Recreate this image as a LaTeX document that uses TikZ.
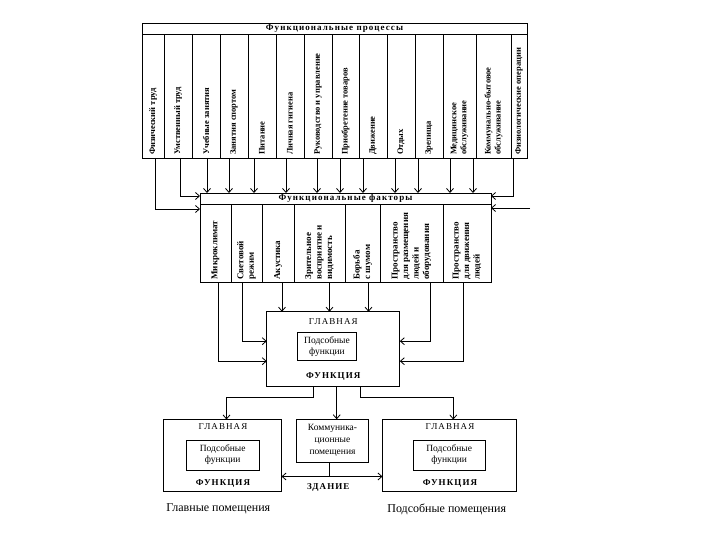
\documentclass[tikz,border=0pt]{standalone}
\usepackage{fontspec}
\setmainfont{Liberation Serif}
\newfontfamily\spaced[LetterSpace=12]{Liberation Serif}
\usepackage{graphicx}
\usetikzlibrary{positioning,arrows.meta}

\newcommand{\vtext}[2]{\rotatebox{90}{\parbox{#1}{\raggedright #2}}}

\begin{document}
\begin{tikzpicture}[
  x=1pt, y=-1pt,
  line width=0.8pt,
  >={Straight Barb[length=4pt,width=7pt]},
  cell/.style={draw, rectangle, outer sep=0pt, inner sep=1pt},
  head/.style={cell, minimum height=11pt, font=\fontsize{9}{10}\selectfont\spaced\bfseries},
  proc/.style={cell, minimum height=124pt, font=\fontsize{8.5}{10}\selectfont\bfseries},
  fact/.style={cell, minimum height=78pt, font=\fontsize{9}{10.5}\selectfont\bfseries},
  box/.style={draw, rectangle, outer sep=0pt},
  sub/.style={box, inner sep=1pt, align=center, font=\fontsize{9.5}{11}\selectfont},
  word/.style={inner sep=1pt, font=\fontsize{9}{11}\selectfont\spaced},
  bold/.style={inner sep=1pt, font=\fontsize{9}{11}\selectfont\spaced\bfseries},
  caption/.style={inner sep=1pt, font=\fontsize{12}{14}\selectfont},
]
\useasboundingbox (0,0) rectangle (720,540);

% functional processes
\node[head, minimum width=385pt, anchor=north west] (procs) at (142,23) {Функциональные процессы};
\node[proc, minimum width=22pt, anchor=north west] (p1) at (procs.south west) {\vtext{118pt}{Физический труд}};
\node[proc, minimum width=28pt, right=0pt of p1] (p2) {\vtext{118pt}{Умственный труд}};
\node[proc, minimum width=28pt, right=0pt of p2] (p3) {\vtext{118pt}{Учебные занятия}};
\node[proc, minimum width=28pt, right=0pt of p3] (p4) {\vtext{118pt}{Занятия спортом}};
\node[proc, minimum width=28pt, right=0pt of p4] (p5) {\vtext{118pt}{Питание}};
\node[proc, minimum width=28pt, right=0pt of p5] (p6) {\vtext{118pt}{Личная гигиена}};
\node[proc, minimum width=28pt, right=0pt of p6] (p7) {\vtext{118pt}{Руководство и управление}};
\node[proc, minimum width=27pt, right=0pt of p7] (p8) {\vtext{118pt}{Приобретение товаров}};
\node[proc, minimum width=28pt, right=0pt of p8] (p9) {\vtext{118pt}{Движение}};
\node[proc, minimum width=28pt, right=0pt of p9] (p10) {\vtext{118pt}{Отдых}};
\node[proc, minimum width=28pt, right=0pt of p10] (p11) {\vtext{118pt}{Зрелища}};
\node[proc, minimum width=33pt, right=0pt of p11] (p12) {\vtext{118pt}{Медицинское\\обслуживание}};
\node[proc, minimum width=35pt, right=0pt of p12] (p13) {\vtext{118pt}{Коммунально-бытовое\\обслуживание}};
\node[proc, minimum width=16pt, right=0pt of p13] (p14) {\vtext{118pt}{Физиологические операции}};

% functional factors
\node[head, minimum width=291pt, anchor=north west] (fac) at (200,193) {Функциональные факторы};
\node[fact, minimum width=31pt, anchor=north west] (f1) at (fac.south west) {\vtext{73pt}{Микроклимат}};
\node[fact, minimum width=31pt, right=0pt of f1] (f2) {\vtext{73pt}{Световой\\режим}};
\node[fact, minimum width=32pt, right=0pt of f2] (f3) {\vtext{73pt}{Акустика}};
\node[fact, minimum width=51pt, right=0pt of f3] (f4) {\vtext{73pt}{Зрительное\\восприятие и\\видимость}};
\node[fact, minimum width=35pt, right=0pt of f4] (f5) {\vtext{73pt}{Борьба\\с шумом}};
\node[fact, minimum width=63pt, right=0pt of f5] (f6) {\vtext{73pt}{Пространство\\для размещения\\людей и\\оборудования}};
\node[fact, minimum width=48pt, right=0pt of f6] (f7) {\vtext{73pt}{Пространство\\для движения\\людей}};

% main function
\node[box, minimum width=133pt, minimum height=75pt] (mainf) at (333.3,349.2) {};
\node[word] (mtop) at (333.3,321.7) {ГЛАВНАЯ};
\node[sub, minimum width=59pt, minimum height=28pt] (msub) at (327,346.8) {Подсобные\\функции};
\node[bold] (mbot) at (333.3,376.7) {ФУНКЦИЯ};

% rooms
\node[box, minimum width=118pt, minimum height=72pt] (hall) at (222.5,455.5) {};
\node[word] (htop) at (223,426.7) {ГЛАВНАЯ};
\node[sub, minimum width=73pt, minimum height=30pt] (hsub) at (222.7,455) {Подсобные\\функции};
\node[bold] (hbot) at (223,483.3) {ФУНКЦИЯ};

\node[sub, minimum width=71.6pt, minimum height=43pt, font=\fontsize{9.5}{12}\selectfont] (comm) at (332.5,440.8) {Коммуника-\\ционные\\помещения};

\node[box, minimum width=134pt, minimum height=72pt] (aux) at (449.5,455.5) {};
\node[word] (atop) at (450,426.7) {ГЛАВНАЯ};
\node[sub, minimum width=71.7pt, minimum height=30pt] (asub) at (449.2,455) {Подсобные\\функции};
\node[bold] (abot) at (450,483.3) {ФУНКЦИЯ};

\node[bold] (bld) at (328.3,487.3) {ЗДАНИЕ};
\node[caption] (capl) at (218.3,509.3) {Главные помещения};
\node[caption] (capr) at (446.7,509.3) {Подсобные помещения};

% processes -> factors
\draw[->] ([xshift=2pt]p1.south) |- ([yshift=-5pt]f1.north west);
\draw[->] ([xshift=2pt]p2.south) |- ([yshift=2.5pt]fac.west);
\draw[->] ([xshift=1pt]p3.south) -- ([xshift=1pt]p3.south |- fac.north);
\draw[->] ([xshift=-5pt]p4.south) -- ([xshift=-5pt]p4.south |- fac.north);
\draw[->] ([xshift=-8pt]p5.south) -- ([xshift=-8pt]p5.south |- fac.north);
\draw[->] ([xshift=-4pt]p6.south) -- ([xshift=-4pt]p6.south |- fac.north);
\draw[->] ([xshift=-1pt]p7.south) -- ([xshift=-1pt]p7.south |- fac.north);
\draw[->] ([xshift=-5.5pt]p8.south) -- ([xshift=-5.5pt]p8.south |- fac.north);
\draw[->] ([xshift=-10pt]p9.south) -- ([xshift=-10pt]p9.south |- fac.north);
\draw[->] ([xshift=-6pt]p10.south) -- ([xshift=-6pt]p10.south |- fac.north);
\draw[->] ([xshift=-11pt]p11.south) -- ([xshift=-11pt]p11.south |- fac.north);
\draw[->] ([xshift=-9.5pt]p12.south) -- ([xshift=-9.5pt]p12.south |- fac.north);
\draw[->] ([xshift=-20.5pt]p13.south) -- ([xshift=-20.5pt]p13.south |- fac.north);
\draw[->] ([xshift=-6pt]p14.south) |- ([yshift=2.5pt]fac.east);
\coordinate (rin) at (530,208);
\draw[->] (rin) -- (rin -| fac.east);

% factors -> main function
\draw[->] ([xshift=3pt]f1.south) |- ([yshift=-12pt]mainf.west);
\draw[->] ([xshift=-4pt]f2.south) |- ([yshift=8pt]mainf.west);
\draw[->] ([xshift=4pt]f3.south) -- ([xshift=4pt]f3.south |- mainf.north);
\draw[->] ([xshift=10pt]f4.south) -- ([xshift=10pt]f4.south |- mainf.north);
\draw[->] ([xshift=6pt]f5.south) -- ([xshift=6pt]f5.south |- mainf.north);
\draw[->] ([xshift=19pt]f6.south) |- ([yshift=8pt]mainf.east);
\draw[->] ([xshift=-4pt]f7.south) |- ([yshift=-12pt]mainf.east);

% main function -> rooms
\draw[->] ([xshift=-20pt]mainf.south) -- ++(0,10.6) -| ([xshift=4pt]hall.north);
\draw[->] ([xshift=3.4pt]mainf.south) -- ([xshift=3.4pt]mainf.south |- comm.north);
\draw[->] ([xshift=26.7pt]mainf.south) -- ++(0,10.6) -| ([xshift=3.8pt]aux.north);

% building link
\coordinate (link) at ([yshift=-21pt]hall.east);
\draw[<->] (link) -- (link -| aux.west);
\draw ([xshift=-3.5pt]comm.south) -- ([xshift=-3.5pt]comm.south |- link);

\end{tikzpicture}
\end{document}
